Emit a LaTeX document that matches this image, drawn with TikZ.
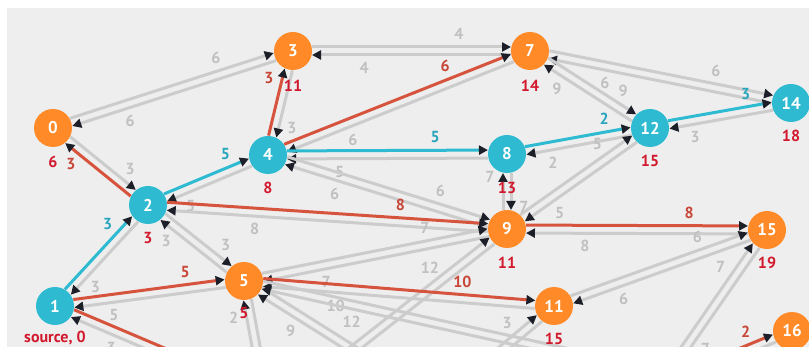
\documentclass[tikz,border=0pt]{standalone}
\usepackage{fontspec}
\setmainfont{PT Sans}
\usetikzlibrary{calc,arrows.meta}
\definecolor{bgc}{RGB}{238,238,238}
\definecolor{orn}{RGB}{255,138,39}
\definecolor{tln}{RGB}{46,187,209}
\definecolor{rde}{RGB}{214,84,62}
\definecolor{gye}{RGB}{204,204,204}
\definecolor{gyl}{RGB}{192,192,192}
\definecolor{tll}{RGB}{40,165,188}
\definecolor{rdl}{RGB}{200,70,55}
\definecolor{dist}{RGB}{210,25,45}
\definecolor{tipc}{RGB}{28,30,40}
\tikzset{
  vtx/.style={circle, minimum size=38pt, inner sep=0pt, text=white, font=\bfseries\fontsize{17}{17}\selectfont},
  ov/.style={vtx, fill=orn},
  tv/.style={vtx, fill=tln},
  edgeln/.style={line width=3pt, shorten <=19pt, shorten >=19pt, -{Triangle[length=9pt,width=9pt,color=tipc]}},
  ge/.style={edgeln, draw=gye},
  re/.style={edgeln, draw=rde},
  te/.style={edgeln, draw=tln},
  wl/.style={font=\bfseries\fontsize{16}{16}\selectfont, inner sep=0pt},
  gel/.style={wl, text=gyl},
  rel/.style={wl, text=rdl},
  tel/.style={wl, text=tll},
  dl/.style={font=\bfseries\fontsize{16}{16}\selectfont, inner sep=0pt, text=dist}
}
% directed edge with its weight label
\newcommand\de[4]{%
  \draw[#4] ($(#1)!4pt!90:(#2)$) -- ($(#2)!4pt!270:(#1)$);
  \coordinate (mm) at ($(#1)!0.7!(#2)$);
  \node[#4l] at ($(mm)!17pt!90:(#2)$) {#3};
}
% directed edge whose label lies outside the visible part
\newcommand\dn[3]{%
  \draw[#3] ($(#1)!4pt!90:(#2)$) -- ($(#2)!4pt!270:(#1)$);
}
\begin{document}
\begin{tikzpicture}[x=1pt,y=-1pt]
\useasboundingbox (0,0) rectangle (809,347);
\clip (0,0) rectangle (809,347);
\fill[white] (0,0) rectangle (809,347);
\fill[bgc] (7,8) rectangle (809,347);
% vertex positions
\coordinate (n0) at (53,128);
\coordinate (n1) at (55,306);
\coordinate (n2) at (148,205);
\coordinate (n3) at (293,51);
\coordinate (n4) at (268,155);
\coordinate (n5) at (244,281);
\coordinate (n7) at (530,51);
\coordinate (n8) at (507,154);
\coordinate (n9) at (507,229);
\coordinate (n11) at (554,306);
\coordinate (n12) at (650,128);
\coordinate (n14) at (791,103);
\coordinate (n15) at (767,230);
\coordinate (n16) at (792,331);
% vertices below the visible area
\coordinate (h6) at (265,395);
\coordinate (hV) at (285,403);
\coordinate (hX) at (659,386);
\coordinate (hB) at (430,398);
\coordinate (hC) at (615,363);
\coordinate (hD) at (434,407);
% grey edges
\de{n0}{n3}{6}{ge}
\de{n3}{n0}{6}{ge}
\de{n3}{n7}{4}{ge}
\de{n7}{n3}{4}{ge}
\de{n3}{n4}{3}{ge}
\de{n7}{n4}{6}{ge}
\de{n8}{n4}{5}{ge}
\de{n4}{n9}{6}{ge}
\de{n9}{n4}{6}{ge}
\de{n0}{n2}{3}{ge}
\de{n2}{n1}{3}{ge}
\de{n5}{n1}{5}{ge}
\de{n4}{n2}{5}{ge}
\de{n9}{n2}{8}{ge}
\de{n2}{n5}{3}{ge}
\de{n5}{n2}{3}{ge}
\de{n5}{n9}{7}{ge}
\de{n9}{n5}{7}{ge}
\de{n11}{n5}{10}{ge}
\de{n12}{n8}{2}{ge}
\de{n14}{n12}{3}{ge}
\de{n7}{n14}{6}{ge}
\de{n14}{n7}{6}{ge}
\de{n7}{n12}{9}{ge}
\de{n12}{n7}{9}{ge}
\de{n8}{n9}{7}{ge}
\de{n9}{n8}{7}{ge}
\de{n9}{n12}{5}{ge}
\de{n12}{n9}{5}{ge}
\de{n15}{n9}{8}{ge}
\de{n11}{n15}{6}{ge}
\de{n15}{n11}{6}{ge}
\de{h6}{n1}{3}{ge}
\dn{n5}{h6}{ge}
\de{h6}{n5}{2}{ge}
\dn{n9}{hV}{ge}
\de{hV}{n9}{12}{ge}
\dn{n5}{hB}{ge}
\de{hB}{n5}{9}{ge}
\dn{n5}{hC}{ge}
\de{hC}{n5}{12}{ge}
\dn{n11}{hD}{ge}
\de{hD}{n11}{3}{ge}
\de{n15}{hX}{7}{ge}
\de{hX}{n15}{7}{ge}
\dn{n16}{hX}{ge}
% red edges
\de{n2}{n0}{3}{re}
\de{n4}{n3}{3}{re}
\de{n4}{n7}{6}{re}
\de{n2}{n9}{8}{re}
\de{n1}{n5}{5}{re}
\de{n5}{n11}{10}{re}
\de{n9}{n15}{8}{re}
\dn{n1}{h6}{re}
\de{hX}{n16}{2}{re}
% teal edges
\de{n4}{n8}{5}{te}
\de{n1}{n2}{3}{te}
\de{n2}{n4}{5}{te}
\de{n8}{n12}{2}{te}
\de{n12}{n14}{3}{te}
% vertices
\node[ov] (v0) at (n0) {0};
\node[tv] (v1) at (n1) {1};
\node[tv] (v2) at (n2) {2};
\node[ov] (v3) at (n3) {3};
\node[tv] (v4) at (n4) {4};
\node[ov] (v5) at (n5) {5};
\node[ov] (v7) at (n7) {7};
\node[tv] (v8) at (n8) {8};
\node[ov] (v9) at (n9) {9};
\node[ov] (v11) at (n11) {11};
\node[tv] (v12) at (n12) {12};
\node[tv] (v14) at (n14) {14};
\node[ov] (v15) at (n15) {15};
\node[ov] (v16) at (n16) {16};
% distances
\node[dl] at ($(n0)+(0,34)$) {6};
\node[dl] at ($(n1)+(0,32)$) {source, 0};
\node[dl] at ($(n2)+(0,33)$) {3};
\node[dl] at ($(n3)+(0,35)$) {11};
\node[dl] at ($(n4)+(0,33)$) {8};
\node[dl] at ($(n5)+(0,32)$) {5};
\node[dl] at ($(n7)+(0,35)$) {14};
\node[dl] at ($(n8)+(0,34)$) {13};
\node[dl] at ($(n9)+(0,34)$) {11};
\node[dl] at ($(n11)+(0,33)$) {15};
\node[dl] at ($(n12)+(0,33)$) {15};
\node[dl] at ($(n14)+(0,33)$) {18};
\node[dl] at ($(n15)+(0,33)$) {19};
\end{tikzpicture}
\end{document}
